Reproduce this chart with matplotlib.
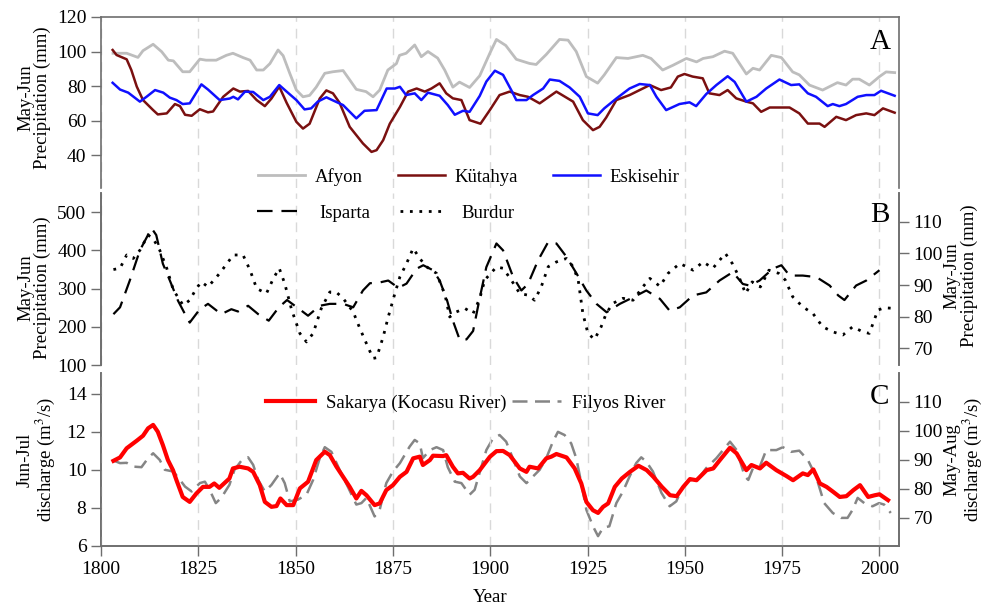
import matplotlib
matplotlib.use("Agg")
import matplotlib.pyplot as plt

plt.rcParams["font.family"] = ["Liberation Serif", "DejaVu Serif"]
plt.rcParams["mathtext.fontset"] = "stix"
plt.rcParams["font.size"] = 13

# ---- panel A: May-Jun precipitation (mm)
afyon_yr = [1803.1, 1806.6, 1809.5, 1810.8, 1813.4, 1815.6, 1817.3, 1818.6, 1821, 1822.8,
            1825.4, 1827, 1829.6, 1832.2, 1833.9, 1836.5, 1838.3, 1840, 1841.7, 1843.4,
            1845.5, 1846.8, 1848.5, 1850.2, 1851.9, 1853.6, 1855.3, 1857.5, 1859.6, 1862.2,
            1863.9, 1865.6, 1868.1, 1869.9, 1871.6, 1873.7, 1875.9, 1876.7, 1878.4, 1880.6,
            1882.3, 1884, 1886.5, 1888.3, 1890.4, 1892.1, 1894.7, 1897.3, 1899.9, 1901.6,
            1904, 1906.7, 1910.1, 1911.8, 1914.4, 1917.8, 1920, 1922.1, 1924.7, 1927.6,
            1929.3, 1932.4, 1935.4, 1939.2, 1941.3, 1944.3, 1946.9, 1950.4, 1953, 1954.7,
            1957.2, 1960.2, 1962.3, 1965.8, 1967.5, 1969.2, 1972.2, 1974.8, 1977.7, 1979.4,
            1982, 1985.4, 1989.2, 1991.4, 1993.1, 1994.8, 1997.4, 2000, 2001.7, 2003.9]
afyon_val = [99, 99, 96.6, 100.5, 104.2, 99.9, 95, 94.6, 88.3, 88.3,
             95.6, 95, 95, 97.8, 99, 96.5, 95, 89.3, 89.3, 93,
             100.9, 97.6, 87.4, 77.7, 73.8, 74.6, 79.4, 87.4, 88.3, 89,
             83.6, 78.1, 76.8, 73.8, 77.7, 89.3, 93, 97.8, 99, 103.8,
             97, 100, 96.2, 89.3, 79.4, 82.3, 79.2, 86, 99, 107,
             103.5, 95.5, 93.1, 92.5, 98.3, 107, 106.6, 100, 85.5, 81.7,
             86.5, 96.5, 96, 97.8, 96, 89.3, 92, 96, 94, 96,
             97, 100.2, 99, 87, 90.3, 89.3, 97.8, 96.5, 88.2, 86.5,
             80.6, 77.7, 82, 80.6, 84, 84, 80.6, 85.5, 88.2, 87.8]

kutahya_yr = [1803, 1804, 1806.6, 1807.8, 1809.2, 1810.8, 1813.4, 1814.6, 1816.9, 1819,
              1820.3, 1821.6, 1823.3, 1825.4, 1827.5, 1828.8, 1831.4, 1834, 1835.7, 1837.8,
              1840, 1842.1, 1843.8, 1845.8, 1847.7, 1850.2, 1851.9, 1853.6, 1856.2, 1857.9,
              1859.6, 1861.3, 1863.9, 1865.6, 1867.3, 1869.5, 1870.8, 1872.5, 1874.2, 1876.8,
              1878.9, 1881.1, 1883.2, 1884.9, 1887, 1888.7, 1890.4, 1892.6, 1894.7, 1897.5,
              1899.9, 1902.4, 1905, 1907.6, 1909.7, 1912.7, 1917, 1921.3, 1923.8, 1926.4,
              1928.1, 1929.8, 1932.4, 1935.8, 1938.4, 1941, 1943.9, 1946.4, 1948.2, 1949.9,
              1952, 1954.6, 1956.3, 1958.9, 1961, 1963.2, 1965.8, 1967.5, 1969.6, 1971.8,
              1976.9, 1979.4, 1981.6, 1984.6, 1985.9, 1988.9, 1991.4, 1994, 1996.6, 1998.7,
              2000.9, 2003.9]
kutahya_val = [100.9, 98, 95.5, 89.3, 79.7, 71.9, 66.1, 63.6, 64.2, 69.6,
               68.4, 63.4, 62.8, 66.6, 64.8, 65.3, 73.8, 78.6, 76.8, 77.2,
               71.9, 68.4, 72.8, 79.7, 70.3, 59.3, 55.4, 58.2, 72.8, 77.5,
               75.8, 70.3, 56.4, 51.6, 46.8, 41.9, 42.9, 48.7, 58.2, 67.9,
               76.8, 78.6, 76.8, 78.6, 81.6, 75.8, 72.9, 71.9, 60.3, 58.2,
               66.1, 74.8, 76.8, 74.8, 73.8, 70, 76.8, 71, 60.3, 54.5,
               56.4, 61.8, 71.9, 74.8, 77.7, 80.6, 77.7, 79.2, 85.5, 87,
               85.5, 84.5, 75.8, 74.8, 77.7, 72.9, 71, 70, 65.1, 67.6,
               67.6, 64.2, 58.3, 58.3, 56.4, 62.2, 60.3, 63.2, 64.2, 63.2,
               67.1, 64.6]

eskisehir_yr = [1803, 1804.9, 1807, 1810, 1811.7, 1813.9, 1816, 1817.7, 1819.4, 1821,
                1822.8, 1825.8, 1827.5, 1830.5, 1833.1, 1834, 1835.2, 1837, 1839.1, 1841.7,
                1843.4, 1845.8, 1847.7, 1850.2, 1852.3, 1854, 1855.7, 1857.9, 1860, 1862.2,
                1865.6, 1867.7, 1870.8, 1873.4, 1875.5, 1876.8, 1878.4, 1880.6, 1882.3, 1884,
                1887, 1889.1, 1890.9, 1893, 1894.7, 1897.3, 1899, 1901.2, 1903.3, 1905.4,
                1906.7, 1909.3, 1911, 1913.6, 1915.3, 1917.8, 1920.4, 1923, 1925.1, 1927.6,
                1929.3, 1932.4, 1935.8, 1938.4, 1941, 1942.7, 1945.2, 1948.6, 1951.2, 1952.9,
                1955.5, 1958.1, 1961, 1962.8, 1965.8, 1968.4, 1970.9, 1974.3, 1977.3, 1979.4,
                1981.6, 1983.7, 1986.7, 1988, 1989.7, 1991.4, 1994.4, 1996.6, 1998.7, 2000.4,
                2003.9]
eskisehir_val = [81.9, 78, 76.2, 71, 73.8, 77.7, 76.2, 73.3, 71.9, 69.6,
                 70, 81, 78, 71.9, 72.8, 73.8, 72.3, 76.8, 76.6, 71.9,
                 73.8, 80.6, 76.8, 71.9, 66.5, 67.1, 71, 73.5, 71.3, 69,
                 61.3, 65.7, 66.1, 78.6, 78.6, 79.6, 74.8, 75.8, 71.9, 76.2,
                 74.4, 69, 63.4, 65.7, 65.1, 74.3, 82.6, 88.9, 86.5, 77.7,
                 71.9, 71.9, 74.8, 78.6, 83.8, 83, 79.2, 73.8, 64.2, 63.2,
                 67.1, 72.8, 78.6, 81.2, 80.6, 73.8, 66.1, 69.6, 70.6, 68.4,
                 75.4, 80.6, 85.7, 82.4, 71, 73.8, 78.6, 83.8, 80.6, 81,
                 75.8, 73.8, 68.4, 69.6, 68.4, 69.6, 73.8, 74.8, 74.8, 77.3,
                 74.4]

# ---- panel B: Isparta (left axis), Burdur (right axis)
isparta_yr = [1803.2, 1804.9, 1807.4, 1810, 1813, 1814.2, 1815.9, 1817.7, 1819.8, 1821.6,
              1822.8, 1825.4, 1827.5, 1830.9, 1833.5, 1835.2, 1837.8, 1840.4, 1843.1, 1845.7,
              1847.8, 1851, 1853.2, 1856.2, 1858.8, 1862.2, 1864.8, 1867.3, 1869.1, 1871.6,
              1873.8, 1876.4, 1878.5, 1881.1, 1882.8, 1885.3, 1887, 1888.8, 1890.4, 1892.2,
              1893.9, 1895.6, 1897.3, 1899, 1901.6, 1903.3, 1905.9, 1908, 1909.7, 1912.3,
              1914.9, 1917, 1919.6, 1922.2, 1924.7, 1927.3, 1929.9, 1933.3, 1936.7, 1940.1,
              1943.6, 1946.1, 1948.7, 1952.1, 1955.5, 1958.9, 1962.3, 1964.9, 1966.6, 1969.2,
              1972.6, 1974.8, 1976.9, 1980.3, 1983.8, 1987.2, 1989.4, 1991, 1994, 1996.6,
              2000]
isparta_val = [233, 251, 321, 400, 458, 440, 365, 321, 268, 233,
               211, 246, 260, 233, 246, 240, 255, 233, 216, 251,
               270, 246, 229, 255, 260, 260, 251, 295, 314, 316,
               321, 302, 313, 352, 361, 348, 321, 273, 216, 165,
               167, 189, 275, 356, 418, 400, 330, 295, 312, 374,
               422, 418, 383, 339, 295, 260, 238, 260, 277, 295,
               273, 242, 251, 282, 290, 321, 343, 312, 308, 321,
               352, 361, 334, 334, 330, 308, 282, 270, 308, 321,
               348]

burdur_yr = [1803.2, 1804.9, 1806.6, 1808.3, 1810, 1812.1, 1813.4, 1815.1, 1816.9, 1818.6,
             1821.1, 1822.8, 1824.5, 1825.8, 1827.5, 1830.5, 1834, 1836.5, 1838.3, 1840,
             1842.5, 1844.3, 1845.8, 1847.2, 1849, 1851.1, 1852.8, 1854.5, 1856.6, 1858.8,
             1860.4, 1862.2, 1864.8, 1866.5, 1868.2, 1869.9, 1870.8, 1872.5, 1873.8, 1875.5,
             1876.8, 1878.5, 1880.2, 1881.9, 1883.6, 1886.2, 1888.4, 1889.6, 1891.3, 1893.5,
             1895.6, 1897.3, 1898.6, 1901.6, 1903.3, 1905.4, 1907.6, 1909.7, 1911.4, 1913.1,
             1914.9, 1917, 1919.6, 1921.3, 1922.6, 1923.8, 1925.1, 1926.8, 1928.5, 1929.8,
             1931.5, 1934.1, 1936.7, 1939.2, 1941, 1943.6, 1945.7, 1948.7, 1950.4, 1952.1,
             1954.7, 1957.2, 1960.4, 1962.2, 1963.9, 1965.6, 1967.3, 1969.4, 1971.6, 1974.1,
             1975.8, 1977.7, 1980.3, 1982.9, 1985.4, 1988, 1990.6, 1993.1, 1995.7, 1997.4,
             1999.6, 2001.3, 2003.9]
burdur_val = [94.9, 95.3, 99.5, 98.4, 101, 105.8, 104.7, 101, 95.3, 88.4,
              83.6, 85.2, 88.9, 91, 89.4, 93.7, 99.5, 99.5, 94.7, 88.9,
              87.3, 92.1, 95.3, 90.5, 82.1, 74.7, 72, 74.7, 82.6, 87.8,
              87.8, 85.8, 81.5, 76.3, 71.5, 66.8, 67, 73.6, 79.9, 87.3,
              92.6, 96.8, 101.6, 98.4, 95.8, 93.7, 86.8, 79.9, 81.5, 82.6,
              81, 85.7, 91.6, 95.7, 95.3, 91.6, 87.3, 86.8, 85.2, 89.4,
              95.8, 97.3, 98.4, 95.8, 91.6, 81, 74.7, 72.8, 76.8, 81,
              84.2, 85.8, 85.2, 89.4, 92.1, 89.6, 93.7, 96.8, 95.8, 94.7,
              97.3, 95.3, 100, 96.8, 92.6, 87.3, 91, 89.4, 94.7, 93.7,
              91.6, 86.3, 83.1, 81, 76.8, 75.2, 74.2, 76.8, 75.2, 74.7,
              82.1, 82.8, 82.6]

# ---- panel C: Sakarya Jun-Jul (left), Filyos May-Aug (right), m3/s
sakarya_yr = [1803.2, 1804.9, 1806.6, 1809.2, 1810.8, 1812.1, 1813.4, 1814.6, 1815.9, 1817.2,
              1818.5, 1819.4, 1821, 1822.8, 1824.5, 1826.2, 1827.9, 1829.1, 1830.4, 1833,
              1833.9, 1835.6, 1837.8, 1839.1, 1840.8, 1842.1, 1843.8, 1845.1, 1846.1, 1847.7,
              1849.4, 1851.1, 1853.2, 1855.3, 1857.5, 1858.8, 1860.5, 1862.2, 1863.9, 1865.6,
              1866.9, 1868.2, 1870.3, 1871.6, 1873.3, 1875, 1876.8, 1878.5, 1880.2, 1881.9,
              1882.7, 1884.5, 1885.3, 1887.9, 1888.7, 1890.4, 1891.7, 1893, 1894.7, 1895.6,
              1897.3, 1899.9, 1901.6, 1903.3, 1905, 1907.6, 1909.3, 1910.1, 1912.3, 1914.4,
              1915.7, 1917, 1919.6, 1921.7, 1923.4, 1924.7, 1926.4, 1927.7, 1929, 1930.3,
              1932, 1933.8, 1935.9, 1938.1, 1940.2, 1941.9, 1944.1, 1946.2, 1947.9, 1949.6,
              1951.3, 1953, 1955.6, 1957.3, 1959, 1961.6, 1963.3, 1965.8, 1967.1, 1969.3,
              1970.9, 1973.5, 1976.1, 1977.8, 1980.3, 1981.6, 1983, 1984.7, 1986.4, 1988.1,
              1989.8, 1991.5, 1993.3, 1995, 1997.1, 1998.8, 2000, 2002.2]
sakarya_val = [10.48, 10.66, 11.14, 11.54, 11.8, 12.19, 12.37, 12.01, 11.31, 10.52,
               9.99, 9.46, 8.58, 8.32, 8.76, 9.11, 9.11, 9.29, 9.06, 9.55,
               10.08, 10.17, 10.08, 9.9, 9.2, 8.32, 8.06, 8.1, 8.5, 8.15,
               8.15, 9.03, 9.38, 10.52, 10.96, 10.78, 10.17, 9.64, 9.11, 8.5,
               8.9, 8.67, 8.15, 8.24, 8.94, 9.2, 9.64, 9.9, 10.61, 10.7,
               10.26, 10.52, 10.75, 10.73, 10.78, 10.17, 9.82, 9.85, 9.55, 9.64,
               9.99, 10.69, 10.99, 11.0, 10.78, 10.08, 9.9, 10.17, 10.08, 10.61,
               10.7, 10.84, 10.66, 10.08, 9.29, 8.32, 7.88, 7.74, 8.06, 8.24,
               9.11, 9.55, 9.9, 10.22, 9.99, 9.64, 9.11, 8.67, 8.62, 9.11,
               9.52, 9.46, 9.99, 10.08, 10.52, 11.17, 10.87, 9.99, 10.26, 10.08,
               10.38, 9.99, 9.68, 9.46, 9.82, 9.73, 10.03, 9.29, 9.11, 8.85,
               8.58, 8.62, 8.94, 9.2, 8.58, 8.67, 8.72, 8.41]

filyos_yr = [1803.2, 1804.9, 1806.6, 1808.3, 1810.4, 1812.1, 1813.4, 1815.1, 1816.4, 1818.6,
             1820.3, 1821.6, 1823.3, 1825.4, 1826.7, 1827.9, 1829.5, 1830.9, 1833, 1834.3,
             1836.1, 1837.8, 1839.1, 1840.4, 1842.1, 1843.8, 1845.9, 1847.2, 1848.5, 1850.6,
             1852.8, 1854.5, 1856.2, 1857.5, 1859.2, 1861.3, 1863.4, 1865.6, 1866.9, 1868.2,
             1870.3, 1871.6, 1873.3, 1875, 1876.8, 1879.3, 1880.6, 1881.9, 1882.7, 1884.5,
             1886.2, 1887.9, 1889.1, 1890.9, 1892.6, 1894.7, 1896, 1897.5, 1899, 1900.7,
             1902.4, 1904.1, 1905.8, 1907.6, 1909.3, 1911, 1912.7, 1914.4, 1916.1, 1917.4,
             1919.1, 1920.8, 1922.1, 1923.4, 1924.7, 1926.4, 1927.7, 1929, 1930.6, 1932.4,
             1934.1, 1935.8, 1937.5, 1938.8, 1940.1, 1941.8, 1944, 1946.1, 1947.8, 1949.5,
             1951.2, 1952.9, 1955.5, 1958.1, 1961.6, 1963.3, 1965.4, 1966.3, 1967.6, 1969.2,
             1970.9, 1973.5, 1975.2, 1977.3, 1979.4, 1981.6, 1983.7, 1985.8, 1988, 1990.1,
             1991.8, 1993.1, 1994.4, 1996.1, 1998.2, 1999.9, 2001.2, 2002.9]
filyos_val = [89.8, 88.9, 89.0, 87.7, 87.5, 90.6, 92.3, 90, 86.6, 86.0,
              83.1, 80.8, 79.1, 82.0, 82.5, 79.7, 75.1, 76.9, 81.4, 86.6,
              89.8, 90.9, 88.3, 83.1, 79.1, 81.4, 85.4, 82.0, 75.7, 76.3,
              78, 83.1, 90.6, 94.4, 92.8, 86.6, 80.8, 74.6, 75.1, 76.9,
              70.5, 72.8, 82.0, 86.0, 88.9, 94.6, 96.9, 95.7, 90.6, 93.4,
              94.4, 93.4, 87.5, 82.5, 82.0, 78.0, 79.7, 86.6, 93.4, 97.4,
              98.6, 96.3, 90.6, 84.3, 82, 84.3, 86.6, 90.6, 96.3, 99.7,
              98.6, 95.7, 90.6, 82.0, 72.8, 67.1, 63.7, 66.6, 67.1, 75.1,
              79.1, 84.3, 88.9, 90.9, 89.4, 86, 78.6, 74, 75.7, 80.8,
              83.1, 82.5, 87.2, 90.6, 96.3, 93.4, 84.3, 83.1, 87.5, 87.5,
              93.4, 93.4, 94.4, 92.8, 93.2, 90, 84.3, 75.1, 71.7, 70,
              70, 72.8, 76.9, 75.1, 74, 75.1, 74.6, 71.7]

year_ticks = list(range(1800, 2001, 25))
spine_col = "#6e6e6e"
TICK_FS = 14
LAB_FS = 13.5

fig = plt.figure(figsize=(9.86, 6.11), dpi=100)
left, width = 0.1024, 0.8093
axA = fig.add_axes([left, 0.6923, width, 0.2799])
axB = fig.add_axes([left, 0.4026, width, 0.2815])
axC = fig.add_axes([left, 0.1064, width, 0.2831])
axB2 = axB.twinx()
axC2 = axC.twinx()


def style(ax, show):
    for side, sp in ax.spines.items():
        sp.set_visible(side in show)
        sp.set_color(spine_col)
        sp.set_linewidth(1.2)
    ax.tick_params(which="both", direction="out", length=7, width=1, color=spine_col,
                   labelsize=TICK_FS, labelcolor="black")


for ax in (axA, axB, axC):
    ax.set_xlim(1800, 2005)
    ax.set_xticks(year_ticks)
    ax.grid(axis="x", color="#d9d9d9", linestyle=(0, (7, 5)), linewidth=1)
    ax.set_axisbelow(True)

style(axA, ("left", "top", "right"))
style(axB, ("left", "right"))
style(axB2, ("left", "right"))
style(axC, ("left", "right", "bottom"))
style(axC2, ("left", "right", "bottom"))
for ax in (axA, axB):
    ax.tick_params(axis="x", bottom=False, labelbottom=False)
axA.tick_params(axis="y", right=False)

# panel A
axA.plot(afyon_yr, afyon_val, color="#bdbdbd", lw=2, label="Afyon")
axA.plot(kutahya_yr, kutahya_val, color="#7a1010", lw=1.8, label="Kütahya")
axA.plot(eskisehir_yr, eskisehir_val, color="#1010ff", lw=1.8, label="Eskisehir")
axA.set_ylim(21, 120)
axA.set_yticks([40, 60, 80, 100, 120])
axA.set_ylabel("May-Jun\nPrecipitation (mm)", fontsize=LAB_FS, linespacing=1.0)
axA.yaxis.set_label_coords(-0.062, 0.53)
axA.legend(loc="center", bbox_to_anchor=(0.461, 0.064), ncol=3, frameon=False,
           fontsize=LAB_FS, handlelength=2.5, handletextpad=0.5, columnspacing=1.9)
axA.text(0.976, 0.855, "A", transform=axA.transAxes, ha="center", va="center", fontsize=21)

# panel B
lB1, = axB.plot(isparta_yr, isparta_val, color="black", lw=1.6, linestyle=(0, (7, 4)),
                label="Isparta")
lB2, = axB2.plot(burdur_yr, burdur_val, color="black", lw=2, linestyle=(0, (1, 2.4)),
                 label="Burdur")
axB.set_ylim(100, 550)
axB.set_yticks([100, 200, 300, 400, 500])
axB2.set_ylim(64.7, 119.1)
axB2.set_yticks([70, 80, 90, 100, 110])
axB.set_ylabel("May-Jun\nPrecipitation (mm)", fontsize=LAB_FS, linespacing=1.0)
axB.yaxis.set_label_coords(-0.062, 0.45)
axB2.set_ylabel("May-Jun\nPrecipitation (mm)", fontsize=LAB_FS, linespacing=1.0)
axB2.yaxis.set_label_coords(1.056, 0.52)
axB.legend(handles=[lB1, lB2], loc="center", bbox_to_anchor=(0.357, 0.884), ncol=2,
           frameon=False, fontsize=LAB_FS, handlelength=2.4, handletextpad=0.9,
           columnspacing=1.6)
axB.text(0.976, 0.872, "B", transform=axB.transAxes, ha="center", va="center", fontsize=21)

# panel C
lC1, = axC.plot(sakarya_yr, sakarya_val, color="#ff0000", lw=3, label="Sakarya (Kocasu River)")
lC2, = axC2.plot(filyos_yr, filyos_val, color="#858585", lw=1.8, linestyle=(0, (6, 3)),
                 label="Filyos River")
axC.set_zorder(axC2.get_zorder() + 1)
axC.patch.set_visible(False)
axC.set_ylim(6, 15.1)
axC.set_yticks([6, 8, 10, 12, 14])
axC2.set_ylim(60.3, 120)
axC2.set_yticks([70, 80, 90, 100, 110])
axC.set_ylabel("Jun-Jul\ndischarge (m$^3$/s)", fontsize=LAB_FS, linespacing=1.0)
axC.yaxis.set_label_coords(-0.055, 0.5)
axC2.set_ylabel("May-Aug\ndischarge (m$^3$/s)", fontsize=LAB_FS, linespacing=1.0)
axC2.yaxis.set_label_coords(1.056, 0.5)
axC.set_xlabel("Year", fontsize=LAB_FS)
axC.xaxis.set_label_coords(0.4875, -0.25)
axC.legend(handles=[lC1, lC2], loc="center", bbox_to_anchor=(0.457, 0.827), ncol=2,
           frameon=False, fontsize=LAB_FS, handlelength=2.6, handletextpad=0.6,
           columnspacing=0.3)
axC.text(0.976, 0.861, "C", transform=axC.transAxes, ha="center", va="center", fontsize=21)

fig.savefig("out.png", dpi=100)
